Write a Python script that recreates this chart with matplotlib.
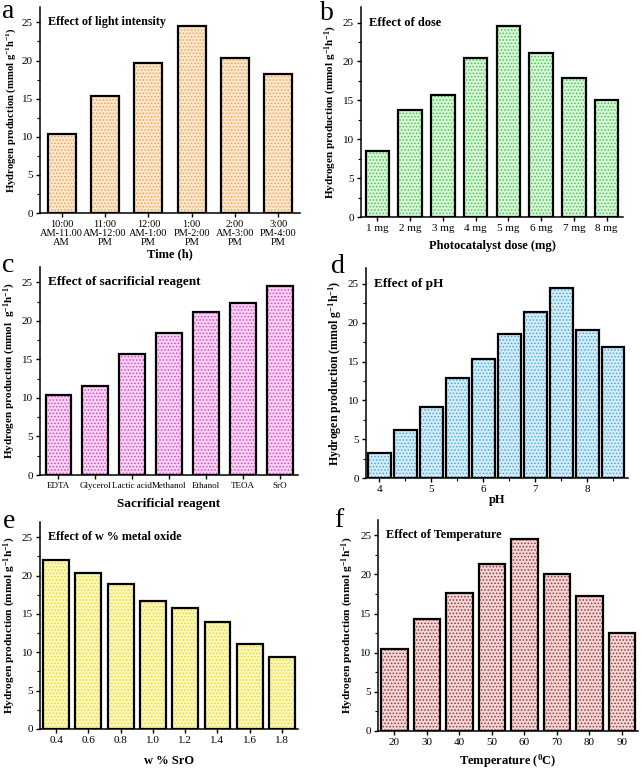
import numpy as np
import matplotlib
matplotlib.use("Agg")
import matplotlib.pyplot as plt
from matplotlib.ticker import MultipleLocator

plt.rcParams["font.family"] = "Liberation Serif"
plt.rcParams["mathtext.fontset"] = "custom"
plt.rcParams["mathtext.rm"] = "Liberation Serif:bold"
plt.rcParams["mathtext.bf"] = "Liberation Serif:bold"
plt.rcParams["mathtext.it"] = "Liberation Serif:bold:italic"
plt.rcParams["hatch.linewidth"] = 0.7

# data
time_labels = ["10:00\nAM-11.00\nAM", "11:00\nAM-12:00\nPM", "12:00\nAM-1:00\nPM",
               "1:00\nPM-2:00\nPM", "2:00\nAM-3:00\nPM", "3:00\nPM-4:00\nPM"]
light_h2 = [10.3, 15.4, 19.7, 24.5, 20.3, 18.2]

dose_labels = ["1 mg", "2 mg", "3 mg", "4 mg", "5 mg", "6 mg", "7 mg", "8 mg"]
dose_h2 = [8.5, 13.8, 15.7, 20.4, 24.5, 21.1, 17.9, 15.1]

reagent_labels = ["EDTA", "Glycerol", "Lactic acid", "Methanol", "Ethanol", "TEOA", "SrO"]
reagent_h2 = [10.4, 11.6, 15.7, 18.4, 21.1, 22.3, 24.5]

ph_values = [4.0, 4.5, 5.0, 5.5, 6.0, 6.5, 7.0, 7.5, 8.0, 8.5]
ph_h2 = [3.2, 6.2, 9.1, 12.9, 15.3, 18.5, 21.4, 24.5, 19.1, 16.9]

sro_labels = ["0.4", "0.6", "0.8", "1.0", "1.2", "1.4", "1.6", "1.8"]
sro_h2 = [22.1, 20.3, 18.9, 16.7, 15.8, 13.9, 11.1, 9.4]

temp_labels = ["20", "30", "40", "50", "60", "70", "80", "90"]
temp_h2 = [10.5, 14.3, 17.6, 21.3, 24.5, 20.1, 17.3, 12.5]

ylab = "Hydrogen production (mmol g$^{-1}$h$^{-1}$)"

fig = plt.figure(figsize=(6.42, 7.71), dpi=100)


def stipple_bars(ax, x, h, width, dot, face):
    ax.bar(x, h, width=width, color=face, edgecolor=dot, linewidth=0, hatch=".....", zorder=2)
    ax.bar(x, h, width=width, fill=False, edgecolor="black", linewidth=1.6, zorder=3)


def style(ax, title, tsize, xlabel, ylsize, ylabel=ylab):
    ax.spines["top"].set_visible(False)
    ax.spines["right"].set_visible(False)
    for s in ["left", "bottom"]:
        ax.spines[s].set_linewidth(1.1)
    ax.set_ylim(0, 27)
    ax.yaxis.set_major_locator(MultipleLocator(5))
    ax.yaxis.set_minor_locator(MultipleLocator(2.5))
    ax.tick_params(which="major", direction="out", length=3, width=1, labelsize=8, pad=2)
    ax.tick_params(which="minor", direction="out", length=2, width=0.8)
    ax.set_ylabel(ylabel, fontsize=ylsize, fontweight="bold", labelpad=3)
    ax.set_xlabel(xlabel, fontsize=9, fontweight="bold", labelpad=3)
    ax.text(0.03, 0.926, title, transform=ax.transAxes, fontsize=tsize,
            fontweight="bold", va="center", ha="left")


# a: light intensity
ax = fig.add_axes([0.0623, 0.7237, 0.405, 0.267])
x = np.arange(len(light_h2))
stipple_bars(ax, x, light_h2, 0.64, "#F2A24A", "#FCE7CF")
ax.set_xlim(-0.5, 5.5)
ax.set_xticks(x)
style(ax, "Effect of light intensity", 8.7, "Time (h)", 7.65)
ax.set_xticklabels(time_labels, linespacing=1.0, fontsize=7.5)
ax.xaxis.labelpad = 1

# b: dose
ax = fig.add_axes([0.5623, 0.7185, 0.408, 0.2724])
x = np.arange(len(dose_h2))
stipple_bars(ax, x, dose_h2, 0.72, "#3CCF46", "#DAF5DA")
ax.set_xlim(-0.5, 7.5)
ax.set_xticks(x)
ax.set_xticklabels(dose_labels)
style(ax, "Effect of dose", 9, "Photocatalyst dose (mg)", 8.0)
ax.xaxis.labelpad = 5

# c: sacrificial reagent
ax = fig.add_axes([0.0623, 0.3839, 0.402, 0.27])
x = np.arange(len(reagent_h2))
stipple_bars(ax, x, reagent_h2, 0.7, "#E044D2", "#F8D4F2")
ax.set_xlim(-0.5, 6.5)
ax.set_xticks(x)
style(ax, "Effect of sacrificial reagent", 9.5, "Sacrificial reagent", 8.0,
      ylabel="Hydrogen production (mmol  g$^{-1}$h$^{-1}$)")
ax.set_xticklabels(reagent_labels, fontsize=6.5)
ax.set_xlabel("Sacrificial reagent", fontsize=9.5, fontweight="bold", labelpad=6)

# d: pH
ax = fig.add_axes([0.570, 0.380, 0.408, 0.272])
stipple_bars(ax, ph_values, ph_h2, 0.43, "#46A9E0", "#D4ECF9")
ax.set_xlim(3.74, 8.78)
ax.xaxis.set_major_locator(MultipleLocator(1))
ax.xaxis.set_minor_locator(MultipleLocator(0.5))
style(ax, "Effect of pH", 9.5, "pH", 8.6)
ax.xaxis.labelpad = 0

# e: w % SrO
ax = fig.add_axes([0.0623, 0.0545, 0.402, 0.2685])
x = np.arange(len(sro_h2))
stipple_bars(ax, x, sro_h2, 0.8, "#E6DC24", "#FBF7BE")
ax.set_xlim(-0.5, 7.5)
ax.set_xticks(x)
ax.set_xticklabels(sro_labels)
style(ax, "Effect of w % metal oxide", 8.7, "w % SrO", 8.2)
ax.xaxis.labelpad = 7

# f: temperature
ax = fig.add_axes([0.589, 0.052, 0.405, 0.274])
x = np.arange(len(temp_h2))
stipple_bars(ax, x, temp_h2, 0.82, "#A23434", "#F0D6D6")
ax.set_xlim(-0.5, 7.5)
ax.set_xticks(x)
ax.set_xticklabels(temp_labels)
style(ax, "Effect of Temperature", 8.8, "Temperature ($^{0}$C)", 8.2)
ax.xaxis.labelpad = 4

# panel letters
for lab, px, py in [("a", 2, 18), ("b", 320, 20), ("c", 2, 272), ("d", 331, 273),
                    ("e", 3, 528), ("f", 334, 527)]:
    fig.text(px / 642, 1 - py / 771, lab, fontsize=20, ha="left", va="baseline")

fig.savefig("out.png", dpi=100)
